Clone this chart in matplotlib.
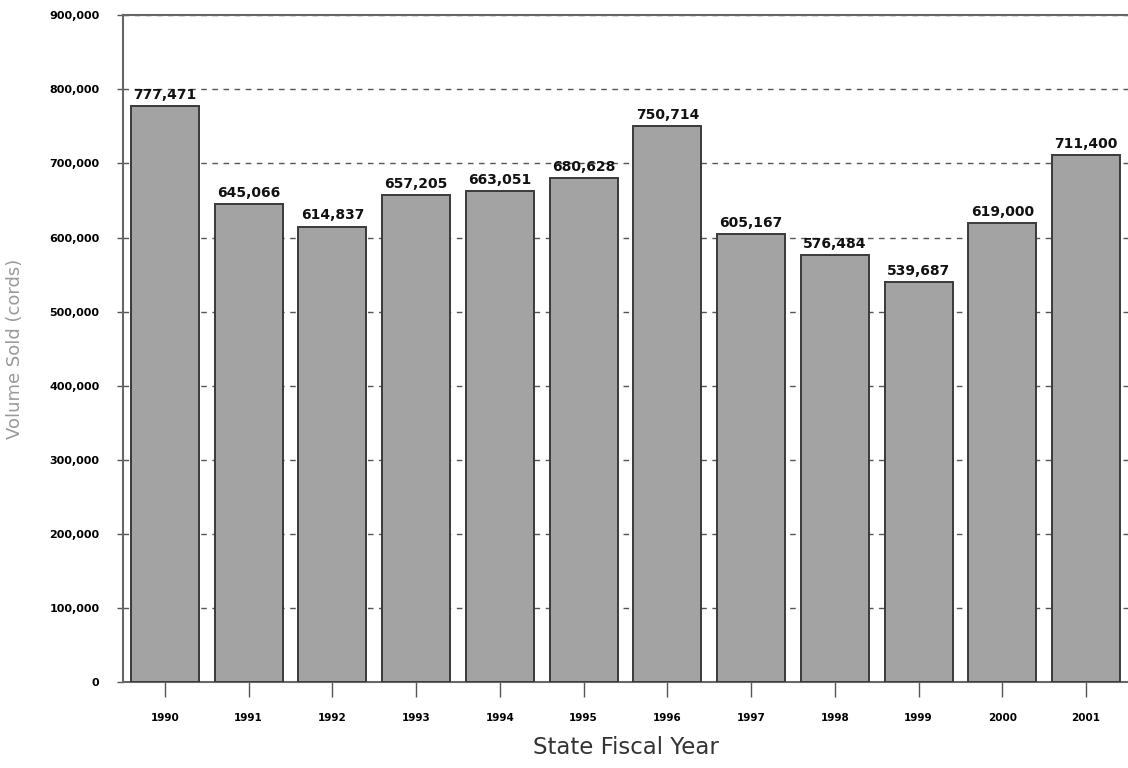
import matplotlib.pyplot as plt

years = ['1990', '1991', '1992', '1993', '1994', '1995',
         '1996', '1997', '1998', '1999', '2000', '2001']
volume = [777471, 645066, 614837, 657205, 663051, 680628,
          750714, 605167, 576484, 539687, 619000, 711400]
yticks = [0, 100000, 200000, 300000, 400000, 500000, 600000, 700000, 800000, 900000]

fig = plt.figure(figsize=(11.28, 7.68), dpi=100)
ax = fig.add_axes([0.109, 0.112, 0.891, 0.868])

x = range(len(years))
bars = ax.bar(x, volume, width=0.81, color='#a3a3a3', edgecolor='#3a3a3a',
              linewidth=1.4, zorder=3)

# value labels on top of each bar
for i, v in enumerate(volume):
    ax.annotate(f'{v:,}', xy=(i, v), xytext=(0, 3), textcoords='offset points',
                ha='center', va='bottom', fontsize=10, fontweight='bold',
                color='#111111', zorder=4)

ax.set_xlim(-0.5, 11.5)
ax.set_ylim(0, 900000)
ax.set_yticks(yticks)
ax.set_yticklabels([f'{t:,}' for t in yticks], fontsize=8, fontweight='bold')
ax.set_xticks(list(x))
ax.set_xticklabels(years, fontsize=7.5, fontweight='bold')
ax.tick_params(axis='x', length=11, width=1, color='#555555', pad=11)
ax.tick_params(axis='y', length=4, width=1, color='#555555', pad=13)

ax.yaxis.grid(True, linestyle=(0, (4, 4)), color='#555555', linewidth=1, zorder=0)
ax.set_axisbelow(True)

for side in ['left', 'top', 'bottom']:
    ax.spines[side].set_color('#666666')
    ax.spines[side].set_linewidth(1.5)
ax.spines['right'].set_visible(False)

ax.set_ylabel('Volume Sold (cords)', fontsize=13, color='#999999', labelpad=18)
ax.set_xlabel('State Fiscal Year', fontsize=16.5, color='#333333', labelpad=10)

fig.savefig('out.png', dpi=100)
plt.close(fig)
